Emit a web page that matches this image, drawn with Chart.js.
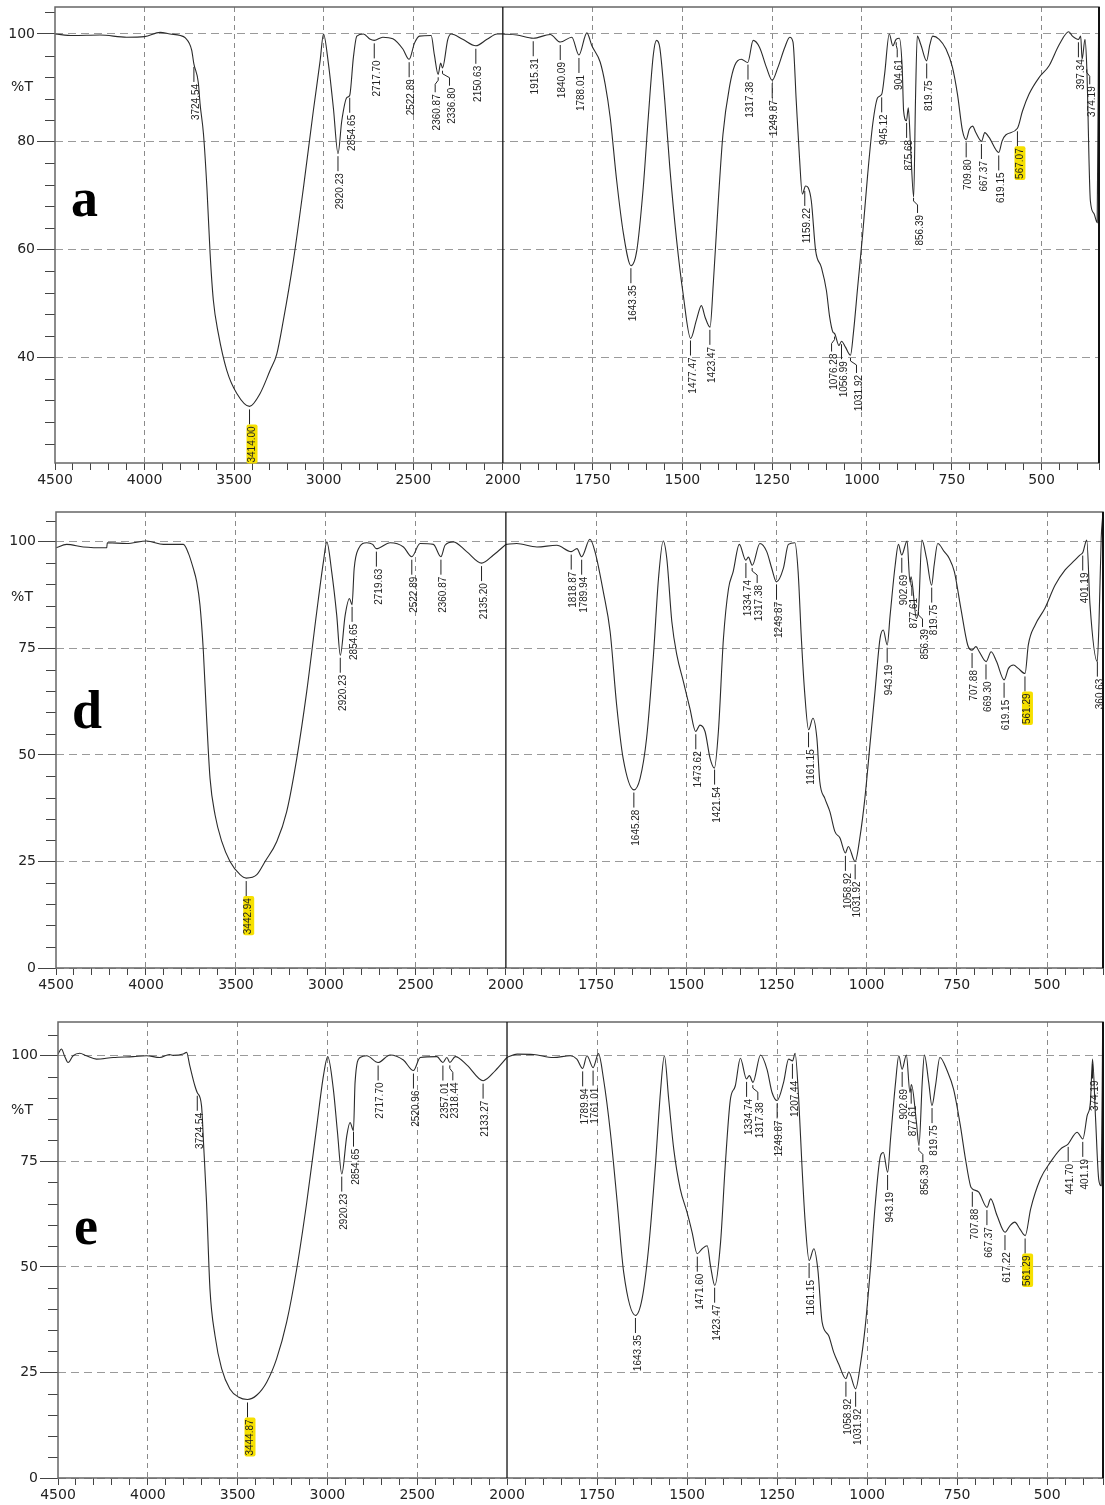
<!DOCTYPE html>
<html>
<head>
<meta charset="utf-8">
<script src="https://cdn.jsdelivr.net/npm/chart.js@4.4.0/dist/chart.umd.min.js"></script>
<style>
  body { margin: 0; background: #fff; width: 1105px; height: 1505px; position: relative; overflow: hidden; }
  canvas { position: absolute; left: 0; }
</style>
</head>
<body>
<canvas id="cA" width="1105" height="497" style="top:0px"></canvas>
<canvas id="cD" width="1105" height="497" style="top:505px"></canvas>
<canvas id="cE" width="1105" height="490" style="top:1015px"></canvas>
<script>
// spectrum a : [wavenumber, %T]
const spectrumA = [
  [4500,100],[4400,99.7],[4249,99.8],[4100,99.4],[4000,99.5],[3913,100.3],[3858,100],[3800,99.7],[3774,99.3],
  [3737,97],[3725,94.5],[3700,91],[3690,87],[3671,81.4],[3652,71.5],[3634,59.2],[3616,50.6],[3588,44.4],
  [3541,37.6],[3485,33.3],[3414,30.9],[3355,33.3],[3299,37.6],[3262,40.6],[3225,46.9],[3169,58],[3113,71.5],
  [3058,85.7],[3020,95],[3001,100],[2974,94.6],[2946,86.3],[2920,77.8],[2899,83.9],[2871,88.2],[2855,88.6],
  [2834,95.7],[2815,99.6],[2778,100],[2740,99],[2718,98.8],[2670,99.4],[2614,99.1],[2558,97.2],[2523,95.3],
  [2493,98.3],[2465,99.6],[2400,99.7],[2382,96.1],[2361,92.5],[2347,94.6],[2337,93.7],[2307,99],[2289,100],
  [2224,99],[2151,97.8],[2088,99],[2032,100],[2000,100],
  [1961,99.8],[1915,99.2],[1868,99.9],[1840,98.5],[1808,99.4],[1788,96.1],[1766,100.2],[1752,97.8],[1729,94.8],
  [1715,90.7],[1701,84.5],[1683,72.8],[1664,62.9],[1643,57],[1627,59.8],[1609,71.5],[1595,84.5],[1581,96.1],
  [1572,98.8],[1563,97.5],[1549,87.6],[1535,75.2],[1516,61.7],[1498,51.8],[1477,43.5],[1461,46.9],[1447,49.6],
  [1437,47.5],[1423,45.6],[1414,53.6],[1400,69],[1387,81.4],[1368,90.5],[1354,94.2],[1336,95.3],[1318,94.7],
  [1303,98.8],[1285,97.5],[1266,93.8],[1250,91.4],[1234,93.8],[1215,97.5],[1201,99.4],[1192,98.5],[1183,87.6],
  [1174,77.1],[1166,70.3],[1157,71.8],[1150,71.5],[1141,69],[1129,59.8],[1113,56.7],[1099,52.4],[1090,47.5],
  [1081,44.7],[1076,44.4],[1064,42.2],[1057,43],[1046,41.9],[1032,40.4],[1024,44.4],[1012,53],[998,62.9],
  [984,74],[970,83.3],[956,88.2],[945,88.8],[937,92.5],[924,100],[914,97.8],[905,99],[896,99.2],[888,93.8],
  [884,85.7],[876,83.9],[871,86.3],[865,79.6],[856,69.7],[851,87.6],[846,99.6],[836,98],[820,95],[811,98],
  [803,99.6],[785,99],[766,97.2],[748,93.8],[734,88.8],[720,82],[710,80.4],[701,82.3],[692,82.9],[683,81.7],
  [667,80.1],[658,81.7],[646,80.8],[619,78],[610,80.1],[599,81.3],[567,82.5],[553,85.7],[535,88.8],[507,91.9],
  [479,94.1],[451,98],[424,100.4],[414,99.6],[397,99],[391,99.6],[387,95.3],[379,99],[374,93.8],[364,69],
  [354,66.7],[345,65],[341,104]
];
const peaksA = [3724.54, 3414.00, 2920.23, 2854.65, 2717.70, 2522.89, 2360.87, 2336.80, 2150.63, 1915.31,
  1840.09, 1788.01, 1643.35, 1477.47, 1423.47, 1317.38, 1249.87, 1159.22, 1076.28, 1056.99, 1031.92, 945.12,
  904.61, 875.68, 856.39, 819.75, 709.80, 667.37, 619.15, 567.07, 397.34, 374.19];
const markedA = [3414.00, 567.07];

// spectrum d
const spectrumD = [
  [4500,98.6],[4441,99.4],[4348,98.8],[4218,98.6],[4215,99.8],[4107,99.6],[3996,100.2],[3903,99.4],[3792,99.4],
  [3764,97.3],[3737,93.75],[3718,90.6],[3700,85.2],[3681,74.2],[3663,58.6],[3644,44.5],[3616,35.9],[3579,29.7],
  [3533,25],[3477,21.9],[3443,21.1],[3384,21.9],[3338,25],[3273,29.7],[3218,36.7],[3162,49.2],[3107,64.8],
  [3051,83.6],[3014,95.3],[2995,100],[2968,93],[2940,82.8],[2920,73.4],[2893,82.8],[2869,86.7],[2855,85.2],
  [2843,93.75],[2819,98.4],[2773,99.8],[2740,99.4],[2720,98.4],[2643,99.8],[2569,98.8],[2523,96.5],[2477,99.6],
  [2403,99.4],[2361,96.5],[2338,99.2],[2292,100],[2218,97.7],[2135,95],[2069,96.9],[2000,99.4],
  [1970,99.6],[1914,98.8],[1859,99.2],[1819,97.7],[1803,98.4],[1790,96.5],[1767,100.6],[1753,97.7],[1730,88.3],
  [1711,78.9],[1693,61.7],[1675,49.2],[1645,41.8],[1628,44.5],[1610,53.9],[1591,73.4],[1577,91.4],[1564,100.2],
  [1554,96.1],[1540,81.25],[1526,73.4],[1508,67.2],[1490,60.9],[1474,55.5],[1462,57],[1448,55.5],[1434,49.2],
  [1422,46.9],[1411,55.5],[1397,77.3],[1383,89],[1370,93],[1353,99.4],[1335,95.7],[1328,96.4],[1317,94.5],
  [1296,99.6],[1277,97.7],[1263,93.75],[1250,90.6],[1231,93.75],[1217,99.4],[1199,99.8],[1190,93],[1181,77.3],
  [1172,64.8],[1161,55.9],[1149,58.6],[1138,53.9],[1130,43.75],[1116,39.8],[1102,36.7],[1088,32],[1074,30.5],
  [1059,27],[1051,28.5],[1032,25],[1019,30.5],[1005,39.8],[991,52.3],[977,64.8],[963,77.3],[954,79.3],
  [943,75.8],[935,82.8],[921,94.5],[912,99.4],[903,96.9],[888,100.2],[880,90.6],[877,91.8],[862,82],
  [856,84.4],[847,100.4],[834,96.1],[820,89.8],[813,94.5],[803,99.6],[785,97.7],[771,96.1],[757,93],
  [739,84.4],[720,75.8],[708,74.6],[697,75.4],[688,74.2],[669,71.9],[655,74.2],[640,71.9],[619,67.6],
  [607,70.3],[593,71.1],[580,70.3],[561,69.1],[552,75.8],[533,80.5],[506,84.4],[478,89.8],[450,93.4],
  [423,95.7],[409,96.9],[401,97.5],[390,100.4],[381,85.2],[361,71.9],[356,81.25],[350,100.8],[346,106]
];
const peaksD = [3442.94, 2920.23, 2854.65, 2719.63, 2522.89, 2360.87, 2135.20, 1818.87, 1789.94, 1645.28,
  1473.62, 1421.54, 1334.74, 1317.38, 1249.87, 1161.15, 1058.92, 1031.92, 943.19, 902.69, 877.61, 856.39,
  819.75, 707.88, 669.30, 619.15, 561.29, 401.19, 360.63];
const markedD = [3442.94, 561.29];

// spectrum e
const spectrumE = [
  [4500,100.4],[4481,101.6],[4463,99.9],[4444,98.4],[4416,100],[4379,100.6],[4342,100],[4286,99.2],[4193,99.6],
  [4082,99.8],[4007,100],[3933,99.6],[3880,100.3],[3859,100.1],[3803,100.4],[3784,100.8],[3766,97.6],[3738,92.9],
  [3725,91.3],[3701,88.2],[3688,77.9],[3673,65.3],[3654,44.8],[3626,33.75],[3589,25.9],[3543,21.1],[3496,19.2],
  [3445,18.6],[3394,19.6],[3338,22.7],[3283,28.2],[3227,36.9],[3171,49.5],[3115,65.3],[3059,83.4],[3022,95.3],
  [2998,99.8],[2967,92.1],[2944,81.9],[2920,72],[2892,81.1],[2874,84.2],[2855,82.3],[2846,93.7],[2818,99.6],
  [2781,100],[2718,98.4],[2651,100.2],[2577,99],[2521,96.5],[2483,99.6],[2390,99.8],[2357,98.4],[2335,99.6],
  [2318,98.4],[2288,99.8],[2223,97.8],[2133,94.1],[2065,96.5],[2000,99.6],
  [1972,100.4],[1926,100.3],[1871,99.6],[1824,100],[1806,99.2],[1790,97],[1778,100],[1761,97.2],[1746,100.5],
  [1732,94.5],[1713,81.9],[1694,65.3],[1676,48.7],[1643,38.5],[1625,42.4],[1607,54.3],[1588,74],[1574,91.3],
  [1563,100],[1551,89.7],[1537,77.9],[1519,68.5],[1500,62.9],[1486,58.2],[1472,53.1],[1458,54.3],[1444,55],
  [1435,50.3],[1423,45.6],[1407,55.8],[1394,74],[1380,89.5],[1366,92.9],[1352,99.4],[1335,94.5],[1327,95.3],
  [1317,93.7],[1296,100.2],[1278,96.8],[1264,91.3],[1250,89.4],[1232,93.7],[1218,99.2],[1207,98.8],[1200,100.6],
  [1190,89.7],[1181,74],[1172,60.6],[1161,51.5],[1148,54.3],[1137,49.5],[1125,36.9],[1107,33.75],[1093,29.8],
  [1079,27],[1059,23.5],[1051,25.1],[1032,21.1],[1019,26.7],[1005,36.1],[991,49.5],[977,65.3],[963,76.3],
  [955,77.1],[943,72.4],[935,80.3],[921,93.7],[912,100],[903,96.8],[891,100.2],[881,91.3],[877,93.2],
  [863,84.2],[856,78.7],[847,93.7],[841,100.2],[829,93.7],[820,88.2],[810,93],[798,99.6],[778,96.5],
  [760,92.1],[741,83.4],[727,75.6],[713,69.2],[708,68.5],[690,67.7],[667,64.1],[657,66.1],[639,62.1],
  [617,58.2],[603,59.8],[590,60.6],[576,59],[561,57.4],[546,63.7],[519,70.8],[491,74.8],[463,77.9],
  [442,79.1],[417,81.9],[401,80.3],[389,85.8],[380,89],[374,99.2],[366,85.8],[357,70.8],[350,69.2],[346,107]
];
const peaksE = [3724.54, 3444.87, 2920.23, 2854.65, 2717.70, 2520.96, 2357.01, 2318.44, 2133.27, 1789.94,
  1761.01, 1643.35, 1471.60, 1423.47, 1334.74, 1317.38, 1249.87, 1207.44, 1161.15, 1058.92, 1031.92, 943.19,
  902.69, 877.61, 856.39, 819.75, 707.88, 667.37, 617.22, 561.29, 441.70, 401.19, 374.19];
const markedE = [3444.87, 561.29];

// tick labels of the split wavenumber axis
const leftTicks = [4500, 4000, 3500, 3000, 2500, 2000];
const rightTicks = [1750, 1500, 1250, 1000, 750, 500];

// layout of each panel
const panels = [
  { id: 'cA', letter: 'a', spec: spectrumA, peaks: peaksA, marked: markedA,
    yMin: 20.4, yMax: 105, yStep: 20, yMinor: 4, xMin: 340, left: 55, padRight: 6, xHeight: 34,
    pctT: 90, letterT: 66.3,
    shift: { '2360.87': -3, '2336.80': 7, '1076.28': -3, '1031.92': 6, '904.61': 1, '856.39': 4, '374.19': 3 } },
  { id: 'cD', letter: 'd', spec: spectrumD, peaks: peaksD, marked: markedD,
    yMin: 0, yMax: 107, yStep: 25, yMinor: 5, xMin: 345, left: 56, padRight: 2, xHeight: 34,
    pctT: 87, letterT: 56.4,
    shift: { '1317.38': 5, '877.61': 1, '856.39': 4 } },
  { id: 'cE', letter: 'e', spec: spectrumE, peaks: peaksE, marked: markedE,
    yMin: 0, yMax: 108, yStep: 25, yMinor: 5, xMin: 345, left: 58, padRight: 2, xHeight: 27,
    pctT: 87, letterT: 55.5,
    shift: { '1317.38': 5, '2318.44': 3, '856.39': 4 } }
];

function interp(spec, wn) {
  for (let i = 0; i < spec.length - 1; i++) {
    const a = spec[i], b = spec[i + 1];
    if (wn <= a[0] && wn >= b[0]) return a[1] + (b[1] - a[1]) * (a[0] - wn) / (a[0] - b[0]);
  }
  return spec[spec.length - 1][1];
}

// no extra room for the edge labels, the frame must sit where the reference has it
function noPad(s) {
  s.paddingLeft = 0; s.paddingRight = 0; s.paddingTop = 0; s.paddingBottom = 0;
}

function makeDecor(p) {
  return {
    id: 'decor',
    afterDraw(chart) {
      const ctx = chart.ctx, area = chart.chartArea;
      const xL = chart.scales.xL, xR = chart.scales.xR, y = chart.scales.y;
      ctx.save();

      // minor y ticks
      ctx.strokeStyle = '#444';
      ctx.lineWidth = 1;
      for (let v = Math.ceil(p.yMin / p.yMinor) * p.yMinor; v <= p.yMax; v += p.yMinor) {
        if (v % p.yStep === 0) continue;
        const py = Math.round(y.getPixelForValue(v)) + 0.5;
        ctx.beginPath(); ctx.moveTo(area.left - 10, py); ctx.lineTo(area.left, py); ctx.stroke();
      }

      // frame and divider at 2000
      ctx.strokeStyle = '#666';
      ctx.lineWidth = 1.5;
      ctx.strokeRect(area.left, area.top, area.right - area.left, area.bottom - area.top);
      ctx.strokeStyle = '#111';
      ctx.lineWidth = 2;
      ctx.beginPath(); ctx.moveTo(area.right, area.top); ctx.lineTo(area.right, area.bottom); ctx.stroke();
      ctx.lineWidth = 1.3;
      const xd = xR.left;
      ctx.beginPath(); ctx.moveTo(xd, area.top); ctx.lineTo(xd, area.bottom); ctx.stroke();

      // %T and panel letter
      ctx.fillStyle = '#222';
      ctx.font = '14px "DejaVu Sans", sans-serif';
      ctx.textAlign = 'center';
      ctx.textBaseline = 'middle';
      ctx.fillText('%T', 22, y.getPixelForValue(p.pctT));
      ctx.fillStyle = '#000';
      ctx.font = 'bold 54px "Liberation Serif", "DejaVu Serif", serif';
      ctx.textAlign = 'left';
      ctx.textBaseline = 'alphabetic';
      ctx.fillText(p.letter, area.left + 16, y.getPixelForValue(p.letterT));

      // peak labels
      ctx.font = '10px "Liberation Sans", Arial, sans-serif';
      ctx.lineWidth = 1;
      p.peaks.forEach(wn => {
        const sc = wn >= 2000 ? xL : xR;
        const txt = wn.toFixed(2);
        const x = sc.getPixelForValue(wn);
        const y0 = y.getPixelForValue(interp(p.spec, wn)) + 3;
        const dx = p.shift[txt] || 0;
        ctx.strokeStyle = '#222';
        ctx.beginPath();
        ctx.moveTo(x, y0);
        if (dx) { ctx.lineTo(x, y0 + 3); ctx.lineTo(x + dx, y0 + 7); }
        ctx.lineTo(x + dx, y0 + 15);
        ctx.stroke();
        const w = ctx.measureText(txt).width;
        const tx = x + dx + 2.5, ty = y0 + 16;
        if (p.marked.includes(wn)) {
          ctx.fillStyle = '#f6e000';
          ctx.beginPath();
          ctx.roundRect(tx - 5.5, ty - 1, 11, w + 3, 2);
          ctx.fill();
        }
        ctx.fillStyle = '#222';
        ctx.save();
        ctx.translate(tx, ty);
        ctx.rotate(-Math.PI / 2);
        ctx.textAlign = 'right';
        ctx.textBaseline = 'middle';
        ctx.fillText(txt, -1, 0);
        ctx.restore();
      });
      ctx.restore();
    }
  };
}

function makePanel(p) {
  const leftPart = p.spec.filter(d => d[0] >= 2000).map(d => ({ x: d[0], y: d[1] }));
  const rightPart = p.spec.filter(d => d[0] <= 2000).map(d => ({ x: d[0], y: d[1] }));
  const line = { borderColor: '#2b2b2b', borderWidth: 1.1, pointRadius: 0, fill: false,
                 cubicInterpolationMode: 'monotone', yAxisID: 'y' };
  const tickFont = { family: '"DejaVu Sans", sans-serif', size: 14 };
  const xAxis = (min, max, step, labels, weight) => ({
    type: 'linear', axis: 'x', position: 'bottom', stack: 'wn', stackWeight: weight,
    min: min, max: max, reverse: true,
    border: { display: false, dash: [5, 4] },
    grid: {
      color: c => (c.tick && labels.includes(c.tick.value) && c.tick.value !== 2000 && c.tick.value !== 4500) ? '#8a8a8a' : 'rgba(0,0,0,0)',
      tickColor: '#444', tickLength: 7, lineWidth: 1
    },
    ticks: {
      stepSize: step, autoSkip: false, maxRotation: 0, minRotation: 0, padding: 2,
      color: '#222', font: tickFont,
      callback: v => labels.includes(v) ? String(v) : ''
    },
    afterFit: s => { s.height = p.xHeight; noPad(s); }
  });

  new Chart(document.getElementById(p.id), {
    type: 'line',
    data: {
      datasets: [
        Object.assign({ data: leftPart, xAxisID: 'xL' }, line),
        Object.assign({ data: rightPart, xAxisID: 'xR' }, line)
      ]
    },
    options: {
      responsive: false, animation: false, devicePixelRatio: 1,
      layout: { autoPadding: false, padding: { left: 5, top: 7, right: p.padRight, bottom: 0 } },
      plugins: { legend: { display: false }, tooltip: { enabled: false } },
      scales: {
        xL: xAxis(2000, 4500, 100, leftTicks, 2500),
        xR: xAxis(p.xMin, 2000, 50, rightTicks, (2000 - p.xMin) * 2.005),
        y: {
          type: 'linear', position: 'left', min: p.yMin, max: p.yMax,
          border: { display: false, dash: [8, 5] },
          grid: { color: '#9a9a9a', tickColor: '#444', tickLength: 18, lineWidth: 1 },
          ticks: { stepSize: p.yStep, includeBounds: false, padding: 2, color: '#222', font: tickFont },
          afterFit: s => { s.width = p.left - 5; noPad(s); }
        }
      }
    },
    plugins: [makeDecor(p)]
  });
}

panels.forEach(makePanel);
</script>
</body>
</html>
